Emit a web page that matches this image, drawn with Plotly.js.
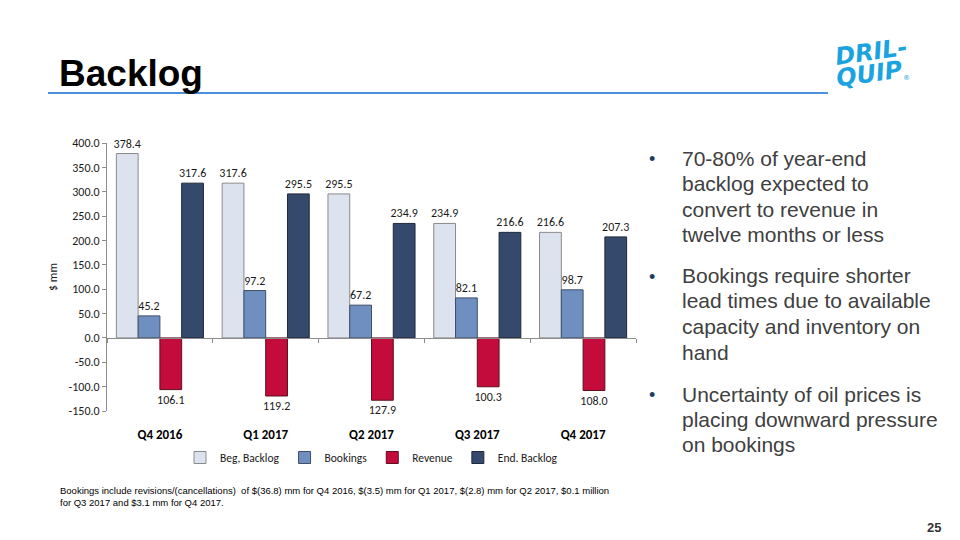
<!DOCTYPE html>
<html>
<head>
<meta charset="utf-8">
<script src="https://cdn.plot.ly/plotly-3.0.1.min.js"></script>
<style>html,body{margin:0;padding:0;background:#fff;}#chart{width:960px;height:540px;}</style>
</head>
<body>
<div id="chart"></div>
<script>
const categories = ['Q4 2016', 'Q1 2017', 'Q2 2017', 'Q3 2017', 'Q4 2017'];
const begBacklog = [378.4, 317.6, 295.5, 234.9, 216.6];
const bookings = [45.2, 97.2, 67.2, 82.1, 98.7];
const revenue = [-106.1, -119.2, -127.9, -100.3, -108.0];
const endBacklog = [317.6, 295.5, 234.9, 216.6, 207.3];
const yTickVals = [-150, -100, -50, 0, 50, 100, 150, 200, 250, 300, 350, 400];
const seriesNames = ['Beg, Backlog', 'Bookings', 'Revenue', 'End. Backlog'];
const bullets = [
  ['70-80% of year-end', 'backlog expected to', 'convert to revenue in', 'twelve months or less'],
  ['Bookings require shorter', 'lead times due to available', 'capacity and inventory on', 'hand'],
  ['Uncertainty of oil prices is', 'placing downward pressure', 'on bookings']
];
const footnote = 'Bookings include revisions/(cancellations)  of $(36.8) mm for Q4 2016, $(3.5) mm for Q1 2017, $(2.8) mm for Q2 2017, $0.1 million<br>for Q3 2017 and $3.1 mm for Q4 2017.';

const L = 107, T = 143, W = 529, H = 268;
const px = x => (x - L) / W;
const py = y => (T + H - y) / H;

const labelFont = {family: 'Carlito, Lato, sans-serif', size: 12, color: '#1a1a1a'};
const fills = ['#dde3ee', '#6f8fc0', '#c30b3c', '#34496b'];
const borders = ['#8a8a8a', '#3f4f68', '#5a1020', '#1f2a3c'];
const valuesList = [begBacklog, bookings, revenue, endBacklog];

const traces = valuesList.map((vals, i) => ({
  type: 'bar',
  name: seriesNames[i],
  x: categories,
  y: vals,
  text: vals.map(v => Math.abs(v).toFixed(1)),
  textposition: 'outside',
  textfont: labelFont,
  constraintext: 'none',
  cliponaxis: false,
  marker: {color: fills[i], line: {color: borders[i], width: 1}},
  hoverinfo: 'skip'
}));

const annotations = [];
annotations.push({xref: 'paper', yref: 'paper', x: px(57), y: py(73), xanchor: 'left', yanchor: 'middle',
  text: '<b>Backlog</b>', showarrow: false, font: {family: 'Liberation Sans, Arial, sans-serif', size: 37, color: '#000'}});
// logo
annotations.push({xref: 'paper', yref: 'paper', x: px(871), y: py(52), xanchor: 'center', yanchor: 'middle',
  text: '<b>DRIL-</b>', showarrow: false, textangle: -8, font: {family: 'DejaVu Sans', size: 24, color: '#1ba3df', style: 'italic'}});
annotations.push({xref: 'paper', yref: 'paper', x: px(869), y: py(74), xanchor: 'center', yanchor: 'middle',
  text: '<b>QUIP</b>', showarrow: false, textangle: -8, font: {family: 'DejaVu Sans', size: 24, color: '#1ba3df', style: 'italic'}});
annotations.push({xref: 'paper', yref: 'paper', x: px(906), y: py(78), xanchor: 'center', yanchor: 'middle',
  text: '®', showarrow: false, font: {family: 'DejaVu Sans', size: 7, color: '#1ba3df'}});
// bullets
const bulletCenters = [[158, 183.5, 209, 234.5], [275.5, 300.5, 326.5, 352], [394, 419.5, 444.5]];
bullets.forEach((lines, b) => {
  annotations.push({xref: 'paper', yref: 'paper', x: px(652), y: py(bulletCenters[b][0] + 1), xanchor: 'center', yanchor: 'middle',
    text: '•', showarrow: false, font: {family: 'Liberation Sans, Arial', size: 18, color: '#1f3b63'}});
  lines.forEach((ln, k) => {
    annotations.push({xref: 'paper', yref: 'paper', x: px(680), y: py(bulletCenters[b][k]), xanchor: 'left', yanchor: 'middle',
      text: ln, showarrow: false, font: {family: 'Liberation Sans, Arial, sans-serif', size: 21, color: '#404040'}});
  });
});
annotations.push({xref: 'paper', yref: 'paper', x: px(58), y: py(496.5), xanchor: 'left', yanchor: 'middle', align: 'left',
  text: footnote, showarrow: false, font: {family: 'Liberation Sans, Arial, sans-serif', size: 9.5, color: '#000'}});
annotations.push({xref: 'paper', yref: 'paper', x: px(943), y: py(527), xanchor: 'right', yanchor: 'middle',
  text: '<b>25</b>', showarrow: false, font: {family: 'Liberation Sans, Arial, sans-serif', size: 13, color: '#333'}});

const layout = {
  width: 960, height: 540,
  margin: {l: L, r: 960 - L - W, t: T, b: 540 - T - H},
  paper_bgcolor: '#fff', plot_bgcolor: 'rgba(0,0,0,0)',
  barmode: 'group', bargap: 0.177, bargroupgap: 0,
  showlegend: true,
  legend: {orientation: 'h', x: 0.5, xanchor: 'center', y: py(443), yanchor: 'top',
    font: {family: 'Carlito, Lato, sans-serif', size: 11.5, color: '#1a1a1a'}, itemwidth: 30, tracegroupgap: 0},
  xaxis: {type: 'category', anchor: 'free', position: 150 / 550, showline: true, linecolor: '#8c8c8c', linewidth: 1,
    ticks: 'outside', ticklen: 4, tickcolor: '#8c8c8c', tickson: 'boundaries', ticklabelstandoff: 84,
    tickfont: {family: 'Carlito, Lato, sans-serif', size: 13, color: '#000', weight: 'bold'}, showgrid: false, zeroline: false, fixedrange: true},
  yaxis: {range: [-150, 400], tickvals: yTickVals, ticktext: yTickVals.map(v => v.toFixed(1)),
    showline: true, linecolor: '#8c8c8c', linewidth: 1, ticks: 'outside', ticklen: 4, tickcolor: '#8c8c8c',
    showgrid: false, zeroline: false, tickfont: labelFont,
    title: {text: '$ mm', standoff: 8, font: {family: 'Carlito, Lato, sans-serif', size: 12, color: '#1a1a1a'}}, fixedrange: true},
  shapes: [{type: 'line', xref: 'paper', yref: 'paper', x0: px(48), x1: px(828), y0: py(93), y1: py(93),
    line: {color: '#4a90d9', width: 2}}],
  annotations: annotations
};

Plotly.newPlot('chart', traces, layout, {displayModeBar: false, staticPlot: true});
</script>
</body>
</html>
